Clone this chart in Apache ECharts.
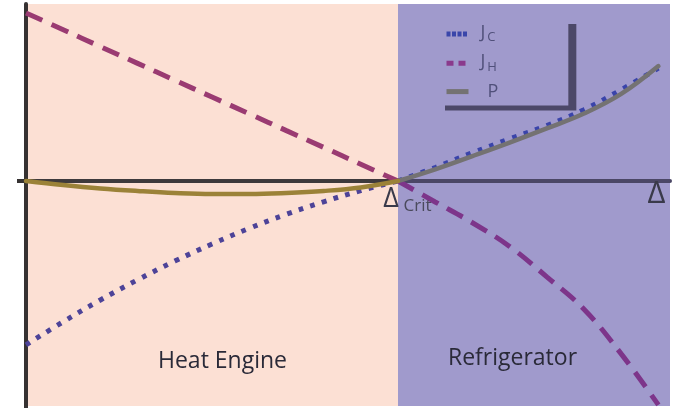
<!DOCTYPE html>
<html><head><meta charset="utf-8">
<script src="https://cdn.jsdelivr.net/npm/echarts@6/dist/echarts.min.js"></script>
<style>html,body{margin:0;padding:0;background:#fff}#c{width:681px;height:408px}</style>
</head><body><div id="c"></div>
<script>
// Δ / Δcrit
const deltaValues = [0, 0.1, 0.2, 0.3, 0.4, 0.5, 0.6, 0.7, 0.8, 0.9, 1.0, 1.1, 1.2, 1.3, 1.4, 1.5, 1.6, 1.7];
const jC = [-0.970, -0.833, -0.704, -0.585, -0.474, -0.373, -0.280, -0.197, -0.123, -0.057, 0, 0.080, 0.167, 0.249, 0.328, 0.422, 0.540, 0.668];
const jH = [0.994, 0.895, 0.795, 0.696, 0.596, 0.497, 0.398, 0.298, 0.199, 0.099, 0, -0.124, -0.247, -0.387, -0.567, -0.759, -1.023, -1.325];
const power = [0, -0.024, -0.044, -0.059, -0.071, -0.077, -0.077, -0.071, -0.059, -0.038, 0, 0.069, 0.147, 0.227, 0.311, 0.399, 0.515, 0.680];
const regionNames = ['Heat Engine', 'Refrigerator'];
const seriesNames = ['J_C', 'J_H', 'P'];
const deltaCrit = 1.0;
const deltaMax = 1.7312;
const deltaMark = 1.695;
const yMax = 1.0473, yMin = -1.3432, bgBottom = -1.3314;

const pink = '#FCE0D4', purple = '#A09ACC';
const critIdx = deltaValues.indexOf(deltaCrit);
const zip = ys => deltaValues.map((x, i) => [x, ys[i]]);
const leftPart = ys => zip(ys).slice(0, critIdx + 1);
const rightPart = ys => zip(ys).slice(critIdx);

const styles = {
  J_C: {width: 5, type: [4.7, 7.5], cap: 'butt', left: '#4d4398', right: '#3a44aa'},
  J_H: {width: 5, type: [18, 10], cap: 'butt', left: '#9a3b72', right: '#7d358a'},
  P:   {width: 4.5, type: 'solid', cap: 'round', left: '#9b8238', right: '#747272'}
};
const values = {J_C: jC, J_H: jH, P: power};

const lineSeries = [];
seriesNames.forEach(n => {
  const s = styles[n];
  lineSeries.push({type: 'line', name: n, data: rightPart(values[n]), z: 3, smooth: 0.4, symbol: 'none',
    lineStyle: {width: s.width, type: s.type, cap: s.cap, color: s.right}});
  lineSeries.push({type: 'line', name: n, data: leftPart(values[n]), z: 3, smooth: 0.4, symbol: 'none',
    lineStyle: {width: s.width, type: s.type, cap: s.cap, color: s.left}});
});

const chart = echarts.init(document.getElementById('c'), null, {renderer: 'canvas'});
const critFrac = deltaCrit / deltaMax;
const hiddenSymbol = {color: 'rgba(0,0,0,0)', opacity: 0, borderWidth: 0};
chart.setOption({
  animation: false,
  backgroundColor: '#fff',
  grid: {left: 26, right: 11, top: 4, bottom: 0},
  xAxis: {
    type: 'value', min: 0, max: deltaMax, z: 2,
    axisLine: {onZero: true, lineStyle: {width: 4, color: {
      type: 'linear', x: 0, y: 0, x2: 1, y2: 0,
      colorStops: [{offset: 0, color: '#3e3a3c'}, {offset: critFrac, color: '#3e3a3c'},
                   {offset: critFrac, color: '#4b4766'}, {offset: 1, color: '#4b4766'}]}}},
    axisTick: {show: false}, axisLabel: {show: false}, splitLine: {show: false}
  },
  yAxis: {
    type: 'value', min: yMin, max: yMax, z: 2,
    axisLine: {show: true, lineStyle: {width: 4, color: '#363232'}},
    axisTick: {show: true, customValues: [0], length: 9, lineStyle: {width: 4, color: '#363232'}},
    axisLabel: {show: false}, splitLine: {show: false}
  },
  legend: {
    orient: 'vertical', left: 437, top: 19,
    padding: [5, 70, 5, 7], itemGap: 5.3, itemWidth: 22, itemHeight: 14,
    backgroundColor: purple, borderWidth: 0,
    shadowColor: '#4c4868', shadowBlur: 0, shadowOffsetX: 8, shadowOffsetY: 5,
    selectedMode: false,
    lineStyle: {width: 5},
    data: [
      {name: 'J_C', lineStyle: {color: '#3a46aa', type: [4, 1.5], width: 5, cap: 'butt'}, itemStyle: hiddenSymbol},
      {name: 'J_H', lineStyle: {color: '#8a3a8c', type: [7, 5], width: 5, cap: 'butt'}, itemStyle: hiddenSymbol},
      {name: 'P', lineStyle: {color: '#747272', type: 'solid', width: 5, cap: 'butt'}, itemStyle: hiddenSymbol}
    ],
    formatter: n => n === 'J_C' ? '{j|J}{s|C}' : n === 'J_H' ? '{j|J}{s|H}' : '{p|P}',
    textStyle: {
      color: '#50507a', fontFamily: 'Open Sans',
      rich: {
        j: {fontSize: 18, lineHeight: 20, verticalAlign: 'top', padding: [0, 0, 6, 7], color: '#50507a', fontFamily: 'Open Sans'},
        s: {fontSize: 13, lineHeight: 18, verticalAlign: 'bottom', padding: [0, 0, 0, 2], color: '#50507a', fontFamily: 'Open Sans'},
        p: {fontSize: 18, lineHeight: 26, padding: [0, 0, 0, 14], color: '#50507a', fontFamily: 'Open Sans'}
      }
    }
  },
  series: [
    {
      type: 'line', name: 'bg', data: [], z: 0, silent: true,
      markArea: {
        silent: true,
        label: {show: true, position: 'inside', fontFamily: 'Open Sans', fontSize: 23, color: '#2a2a38'},
        data: [
          [{xAxis: 0, yAxis: yMax, itemStyle: {color: pink}, label: {formatter: regionNames[0], offset: [10.5, 156]}},
           {xAxis: deltaCrit, yAxis: bgBottom}],
          [{xAxis: deltaCrit, yAxis: yMax, itemStyle: {color: purple}, label: {formatter: regionNames[1], offset: [-21.5, 153]}},
           {xAxis: deltaMax, yAxis: bgBottom}]
        ]
      },
      markPoint: {
        silent: true, symbol: 'circle', symbolSize: 1, itemStyle: {color: 'rgba(0,0,0,0)'},
        label: {show: true, position: 'inside', color: '#3a3a4a', fontFamily: 'Open Sans'},
        data: [
          {coord: [deltaCrit, 0], label: {formatter: 'Δ', fontSize: 27, offset: [-7, 18]}},
          {coord: [deltaCrit, 0], label: {formatter: 'Crit', fontSize: 17, color: '#4a4a5c', offset: [19.5, 25]}},
          {coord: [deltaMark, 0], label: {formatter: 'Δ', fontSize: 31, offset: [0, 13]}}
        ]
      }
    }
  ].concat(lineSeries)
});
</script></body></html>
